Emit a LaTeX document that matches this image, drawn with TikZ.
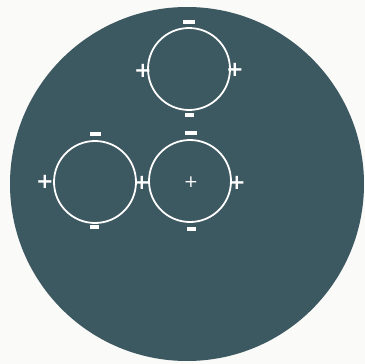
\documentclass[tikz,border=0pt]{standalone}
\usepackage{fontspec}
\setmainfont{DejaVu Sans}
\definecolor{slate}{RGB}{60,88,96}
\definecolor{paper}{RGB}{250,250,248}
\begin{document}
\begin{tikzpicture}[x=1pt,y=-1pt,
  ring/.style={circle,draw=white,line width=1.8pt,minimum size=82pt,inner sep=0pt},
  pl/.style={text=white,font=\fontsize{21}{21}\selectfont\bfseries,inner sep=0pt},
  mi/.style={fill=white,minimum width=11pt,minimum height=3.4pt,inner sep=0pt}]
\fill[paper] (0,0) rectangle (365,364);
\useasboundingbox (0,0) rectangle (365,364);
\node[circle,fill=slate,minimum size=354pt,inner sep=0pt] (disc) at (187,184) {};
% rings
\node[ring] (top) at (189,69) {};
\node[ring] (left) at (95,182) {};
\node[ring] (right) at (190,181) {};
% top ring signs
\node[mi,minimum width=12pt] (tm1) at (189,22) {};
\node[mi,minimum width=9pt] (tm2) at (189,115) {};
\node[pl] (tp1) at (143,71) {+};
\node[pl] (tp2) at (235,70) {+};
% left ring signs
\node[mi] (lm1) at (95,134) {};
\node[mi,minimum width=9pt] (lm2) at (94,227) {};
\node[pl] (lp1) at (45,182) {+};
\node[pl] (lp2) at (142,183) {+};
% right ring signs
\node[mi,minimum width=12pt] (rm1) at (191,133) {};
\node[mi,minimum width=9pt] (rm2) at (191,229) {};
\node[pl,font=\fontsize{17}{17}\selectfont] (rp0) at (191,182) {+};
\node[pl] (rp2) at (237,183) {+};
\end{tikzpicture}
\end{document}
